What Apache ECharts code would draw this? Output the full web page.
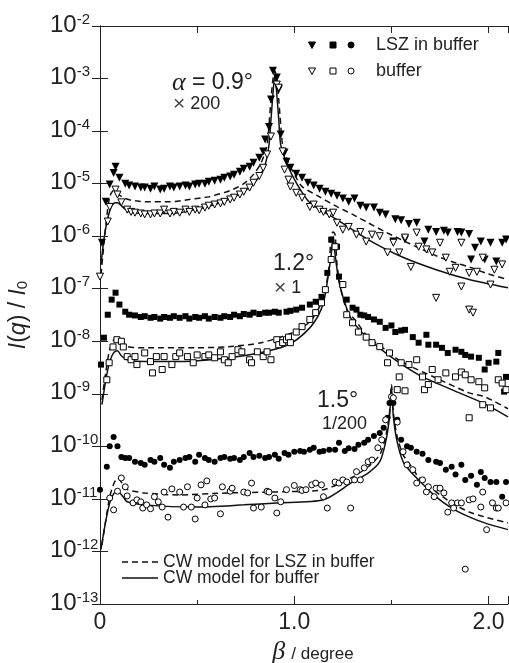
<!DOCTYPE html>
<html>
<head>
  <meta charset="utf-8">
  <title>CW model - I(q)/I0 vs beta</title>
  <script src="https://cdn.jsdelivr.net/npm/echarts@6/dist/echarts.min.js"></script>
  <style>
    html, body { margin: 0; padding: 0; background: #fff; }
    #chart { width: 509px; height: 663px; }
  </style>
</head>
<body>
<div id="chart"></div>
<script>
  // alpha = 0.9 deg (x 200): LSZ in buffer (filled triangles) and buffer (open triangles)
  const triLsz = [[0.01,7.5e-7],[0.03,4.5e-6],[0.05,9.6e-6],[0.07,1.6e-5],[0.08,2.1e-5],[0.10,1.3e-5],[0.13,1.0e-5],[0.15,9.2e-6],[0.18,8.8e-6],[0.21,8.4e-6],[0.23,8.4e-6],[0.26,8.0e-6],[0.28,8.8e-6],[0.31,7.7e-6],[0.33,8.0e-6],[0.36,8.8e-6],[0.38,8.4e-6],[0.41,8.8e-6],[0.44,9.2e-6],[0.46,8.8e-6],[0.49,9.6e-6],[0.51,1.0e-5],[0.54,1.0e-5],[0.56,1.09e-5],[0.59,1.14e-5],[0.62,1.19e-5],[0.64,1.3e-5],[0.67,1.36e-5],[0.69,1.48e-5],[0.72,1.69e-5],[0.74,1.93e-5],[0.77,2.1e-5],[0.79,2.5e-5],[0.82,3.1e-5],[0.84,4.1e-5],[0.85,6.9e-5],[0.87,1.2e-4],[0.88,4.0e-4],[0.89,1.4e-3],[0.91,1.05e-3],[0.92,6.2e-4],[0.93,8.6e-5],[0.95,3.9e-5],[0.96,2.6e-5],[0.98,2.0e-5],[1.01,1.55e-5],[1.04,1.3e-5],[1.07,1.04e-5],[1.10,9.2e-6],[1.13,8.0e-6],[1.16,7.0e-6],[1.19,6.4e-6],[1.22,5.9e-6],[1.25,5.2e-6],[1.28,4.5e-6],[1.31,5.2e-6],[1.34,3.8e-6],[1.37,3.5e-6],[1.41,3.5e-6],[1.44,2.8e-6],[1.47,2.6e-6],[1.51,7.9e-7],[1.52,2.1e-6],[1.55,2.0e-6],[1.57,8.6e-7],[1.59,1.7e-6],[1.63,1.8e-6],[1.67,7.9e-7],[1.69,1.33e-6],[1.73,1.2e-6],[1.77,1.27e-6],[1.79,1.17e-6],[1.84,1.2e-6],[1.86,1.17e-6],[1.90,1.1e-6],[1.91,3.6e-7],[1.93,6.0e-7],[1.96,7.9e-7],[1.98,3.6e-7],[2.01,7.5e-7],[2.04,3.3e-7],[2.07,7.5e-7],[2.09,8.6e-7]];
  const triBuf = [[0.00,1.7e-7],[0.04,1.9e-6],[0.05,3.6e-6],[0.08,7.7e-6],[0.09,6.2e-6],[0.11,4.4e-6],[0.14,3.2e-6],[0.16,2.9e-6],[0.18,2.8e-6],[0.21,2.7e-6],[0.23,2.6e-6],[0.26,2.6e-6],[0.28,2.7e-6],[0.31,2.7e-6],[0.33,3.2e-6],[0.36,2.7e-6],[0.38,2.9e-6],[0.41,2.8e-6],[0.44,3.2e-6],[0.46,2.9e-6],[0.49,3.2e-6],[0.51,3.1e-6],[0.54,3.5e-6],[0.56,3.8e-6],[0.59,4.0e-6],[0.62,4.2e-6],[0.64,4.5e-6],[0.67,5.0e-6],[0.69,5.4e-6],[0.72,6.2e-6],[0.74,7.0e-6],[0.77,8.4e-6],[0.79,1.04e-5],[0.82,1.4e-5],[0.84,2.0e-5],[0.86,3.6e-5],[0.88,7.9e-5],[0.91,7.7e-4],[0.92,6.7e-4],[0.94,4.1e-5],[0.95,1.85e-5],[0.97,1.19e-5],[0.98,8.8e-6],[1.01,6.7e-6],[1.04,5.4e-6],[1.08,3.6e-6],[1.10,4.0e-6],[1.13,3.2e-6],[1.15,2.9e-6],[1.18,2.6e-6],[1.20,2.8e-6],[1.22,1.8e-6],[1.25,1.33e-6],[1.28,1.5e-6],[1.32,1.07e-6],[1.34,1.2e-6],[1.37,7.9e-7],[1.40,1.07e-6],[1.44,1.0e-6],[1.48,4.9e-7],[1.51,7.5e-7],[1.54,4.9e-7],[1.57,9.4e-7],[1.60,2.6e-7],[1.63,1.17e-6],[1.64,6.3e-7],[1.68,5.6e-7],[1.71,4.9e-7],[1.73,6.7e-8],[1.75,7.5e-7],[1.78,3.9e-7],[1.80,2.1e-7],[1.83,2.5e-7],[1.86,7.5e-7],[1.86,1.1e-7],[1.90,2.0e-7],[1.90,4.0e-8],[1.92,3.5e-8],[1.94,2.1e-7],[1.97,3.9e-7],[2.01,1.2e-7],[2.03,2.3e-7],[2.07,2.9e-7]];
  const dash09 = [[0.005,1.85e-7],[0.02,6.9e-7],[0.036,2.6e-6],[0.05,5.6e-6],[0.07,7.4e-6],[0.09,6.4e-6],[0.13,5.2e-6],[0.18,4.7e-6],[0.26,4.5e-6],[0.36,4.5e-6],[0.46,5.0e-6],[0.56,5.6e-6],[0.67,7.4e-6],[0.74,1.0e-5],[0.79,1.5e-5],[0.83,2.5e-5],[0.86,5.5e-5],[0.87,1.33e-4],[0.88,4.0e-4],[0.89,9.6e-4],[0.90,1.4e-3],[0.91,9.6e-4],[0.92,4.0e-4],[0.93,1.33e-4],[0.94,5.5e-5],[0.97,2.5e-5],[1.01,1.3e-5],[1.04,8.8e-6],[1.13,5.6e-6],[1.22,3.65e-6],[1.30,2.6e-6],[1.38,1.8e-6],[1.47,1.2e-6],[1.55,8.6e-7],[1.64,6.0e-7],[1.73,4.25e-7],[1.81,3.3e-7],[1.90,2.6e-7],[2.00,1.9e-7],[2.10,1.5e-7]];
  const solid09 = [[0.005,2.9e-7],[0.02,8.6e-7],[0.036,1.9e-6],[0.056,3.5e-6],[0.077,4.35e-6],[0.09,4.35e-6],[0.12,3.5e-6],[0.15,2.9e-6],[0.23,2.7e-6],[0.32,2.7e-6],[0.41,2.8e-6],[0.49,3.2e-6],[0.57,3.8e-6],[0.66,5.0e-6],[0.73,6.7e-6],[0.78,9.2e-6],[0.82,1.36e-5],[0.85,2.3e-5],[0.87,5.5e-5],[0.88,1.66e-4],[0.89,5.0e-4],[0.90,1.2e-3],[0.91,5.0e-4],[0.92,1.66e-4],[0.93,5.5e-5],[0.96,2.5e-5],[1.01,1.04e-5],[1.08,4.35e-6],[1.22,2.06e-6],[1.38,8.6e-7],[1.55,4.1e-7],[1.73,2.3e-7],[1.90,1.5e-7],[2.10,1.04e-7]];

  // alpha = 1.2 deg (x 1): squares
  const sqLsz = [[0.005,3.6e-9],[0.02,1.17e-8],[0.04,3.2e-8],[0.06,6.2e-8],[0.08,8.4e-8],[0.10,5.0e-8],[0.13,3.65e-8],[0.15,3.2e-8],[0.18,3.1e-8],[0.21,2.9e-8],[0.23,3.0e-8],[0.26,2.8e-8],[0.28,2.9e-8],[0.31,2.7e-8],[0.33,2.9e-8],[0.36,2.8e-8],[0.38,3.0e-8],[0.41,2.8e-8],[0.44,3.0e-8],[0.46,2.7e-8],[0.49,2.9e-8],[0.51,2.8e-8],[0.54,3.0e-8],[0.56,2.7e-8],[0.59,2.9e-8],[0.62,2.8e-8],[0.64,3.0e-8],[0.67,2.9e-8],[0.69,3.2e-8],[0.72,3.0e-8],[0.74,3.3e-8],[0.77,3.2e-8],[0.79,3.5e-8],[0.82,3.3e-8],[0.85,3.5e-8],[0.87,3.5e-8],[0.90,3.65e-8],[0.92,3.5e-8],[0.96,3.65e-8],[0.98,3.8e-8],[1.01,4.0e-8],[1.04,4.35e-8],[1.08,5.0e-8],[1.11,5.65e-8],[1.14,7.0e-8],[1.17,2.0e-7],[1.19,8.6e-7],[1.22,6.3e-7],[1.23,1.7e-7],[1.27,6.2e-8],[1.30,4.35e-8],[1.32,4.0e-8],[1.34,3.2e-8],[1.36,3.1e-8],[1.38,2.9e-8],[1.41,2.6e-8],[1.44,2.35e-8],[1.47,1.8e-8],[1.50,2.0e-8],[1.52,1.5e-8],[1.55,1.6e-8],[1.57,1.65e-8],[1.61,1.2e-8],[1.64,9.4e-9],[1.68,1.33e-8],[1.69,8.6e-9],[1.73,8.6e-9],[1.76,7.5e-9],[1.79,6.0e-9],[1.83,6.9e-9],[1.86,6.3e-9],[1.88,5.5e-9],[1.91,5.1e-9],[1.95,4.85e-9],[1.98,2.9e-9],[2.00,3.9e-9],[2.04,4.1e-9],[2.05,6.0e-9],[2.08,1.1e-9],[2.09,2.1e-9]];
  const sqBuf = [[0.035,1.85e-9],[0.047,3.9e-9],[0.067,7.8e-9],[0.087,1.07e-8],[0.11,1.0e-8],[0.12,7.8e-9],[0.14,5.1e-9],[0.16,4.45e-9],[0.18,5.1e-9],[0.19,3.6e-9],[0.23,6.0e-9],[0.26,4.1e-9],[0.27,2.5e-9],[0.29,5.1e-9],[0.32,2.9e-9],[0.33,5.1e-9],[0.37,3.6e-9],[0.39,5.1e-9],[0.41,6.0e-9],[0.45,5.1e-9],[0.48,3.9e-9],[0.50,5.5e-9],[0.54,5.1e-9],[0.56,5.5e-9],[0.59,4.85e-9],[0.62,6.3e-9],[0.64,4.45e-9],[0.66,3.9e-9],[0.68,5.1e-9],[0.71,6.9e-9],[0.73,6.3e-9],[0.77,4.45e-9],[0.78,3.9e-9],[0.81,6.3e-9],[0.84,5.1e-9],[0.86,6.3e-9],[0.88,4.45e-9],[0.91,1.07e-8],[0.92,8.6e-9],[0.94,9.4e-9],[0.96,1.07e-8],[0.97,1.2e-8],[0.98,9.4e-9],[1.01,1.5e-8],[1.04,1.9e-8],[1.08,2.6e-8],[1.11,3.5e-8],[1.14,5.4e-8],[1.16,9.6e-8],[1.19,3.6e-7],[1.21,6.3e-7],[1.25,1.2e-7],[1.27,3.2e-8],[1.30,2.25e-8],[1.33,1.5e-8],[1.37,1.2e-8],[1.40,9.4e-9],[1.44,7.9e-9],[1.48,3.9e-9],[1.49,6.0e-9],[1.53,1.2e-9],[1.54,2.1e-9],[1.55,3.9e-9],[1.57,1.14e-9],[1.59,3.6e-9],[1.63,4.45e-9],[1.66,2.1e-9],[1.67,1.2e-9],[1.69,1.5e-9],[1.71,2.9e-9],[1.74,1.85e-9],[1.78,2.5e-9],[1.83,2.1e-9],[1.86,2.6e-9],[1.88,2.3e-9],[1.90,3.5e-10],[1.91,1.85e-9],[1.95,1.7e-9],[1.97,6.2e-10],[1.98,1.3e-9],[2.01,5.4e-10],[2.05,1.85e-9],[2.07,1.6e-9],[2.09,1.2e-9]];
  const dash12 = [[0.01,7.7e-10],[0.03,2.6e-9],[0.05,6.9e-9],[0.08,1.17e-8],[0.10,1.0e-8],[0.14,7.9e-9],[0.23,7.5e-9],[0.32,7.5e-9],[0.49,7.5e-9],[0.66,7.9e-9],[0.83,9.4e-9],[1.00,1.5e-8],[1.08,2.35e-8],[1.13,4.55e-8],[1.16,9.6e-8],[1.18,2.9e-7],[1.19,1.07e-6],[1.20,1.2e-6],[1.21,1.07e-6],[1.22,2.9e-7],[1.24,9.6e-8],[1.27,4.0e-8],[1.32,2.35e-8],[1.38,1.2e-8],[1.47,6.9e-9],[1.55,4.1e-9],[1.73,2.0e-9],[1.90,1.04e-9],[1.98,8.8e-10],[2.10,5.2e-10]];
  const solid12 = [[0.01,6.2e-10],[0.03,1.85e-9],[0.05,4.1e-9],[0.07,6.0e-9],[0.09,6.6e-9],[0.11,5.3e-9],[0.14,4.45e-9],[0.23,4.1e-9],[0.40,4.1e-9],[0.57,4.45e-9],[0.74,5.3e-9],[0.91,7.2e-9],[1.00,1.0e-8],[1.08,1.8e-8],[1.12,2.9e-8],[1.15,5.4e-8],[1.17,1.36e-7],[1.19,4.45e-7],[1.20,1.0e-6],[1.21,4.45e-7],[1.23,1.36e-7],[1.26,5.4e-8],[1.29,2.8e-8],[1.35,1.45e-8],[1.47,6.0e-9],[1.64,2.3e-9],[1.81,1.2e-9],[1.98,6.45e-10],[2.10,3.65e-10]];

  // alpha = 1.5 deg (1/200): circles
  const ciLsz = [[0.00,1.5e-11],[0.035,4.1e-11],[0.05,1.0e-10],[0.07,1.5e-10],[0.09,1.0e-10],[0.11,6.3e-11],[0.13,6.0e-11],[0.15,6.0e-11],[0.18,5.1e-11],[0.21,4.85e-11],[0.23,4.45e-11],[0.26,5.5e-11],[0.28,5.1e-11],[0.31,6.0e-11],[0.33,4.45e-11],[0.36,3.9e-11],[0.38,5.1e-11],[0.41,5.5e-11],[0.44,6.0e-11],[0.46,6.3e-11],[0.49,5.1e-11],[0.51,6.9e-11],[0.54,6.0e-11],[0.56,5.5e-11],[0.59,5.1e-11],[0.62,6.0e-11],[0.64,6.3e-11],[0.67,5.8e-11],[0.69,6.0e-11],[0.72,5.5e-11],[0.74,6.3e-11],[0.77,7.5e-11],[0.79,6.3e-11],[0.82,6.6e-11],[0.85,6.0e-11],[0.87,6.3e-11],[0.90,6.9e-11],[0.92,5.8e-11],[0.95,7.5e-11],[0.97,6.9e-11],[1.00,7.9e-11],[1.03,8.2e-11],[1.05,7.9e-11],[1.08,8.6e-11],[1.10,9.4e-11],[1.13,7.9e-11],[1.15,8.2e-11],[1.18,8.6e-11],[1.21,8.6e-11],[1.23,1.17e-10],[1.26,8.2e-11],[1.28,9.2e-11],[1.31,8.9e-11],[1.33,1.07e-10],[1.36,1.17e-10],[1.38,1.33e-10],[1.41,1.58e-10],[1.44,1.8e-10],[1.46,2.25e-10],[1.48,3.5e-10],[1.49,6.7e-10],[1.51,6.7e-10],[1.53,3.2e-10],[1.55,1.33e-10],[1.58,1.0e-10],[1.60,9.4e-11],[1.63,7.9e-11],[1.66,7.2e-11],[1.69,5.5e-11],[1.73,5.1e-11],[1.75,4.85e-11],[1.78,3.6e-11],[1.81,4.1e-11],[1.83,2.9e-11],[1.86,4.45e-11],[1.88,2.3e-11],[1.91,2.75e-11],[1.94,1.85e-11],[1.96,3.25e-11],[1.98,2.5e-11],[2.01,2.1e-11],[2.04,2.1e-11],[2.07,1.1e-11],[2.09,2.1e-11]];
  const ciBuf = [[0.05,1.04e-11],[0.07,6.2e-12],[0.09,1.4e-11],[0.11,2.5e-11],[0.13,1.7e-11],[0.14,1.14e-11],[0.17,8.4e-12],[0.19,9.6e-12],[0.21,8.8e-12],[0.22,6.7e-12],[0.24,7.7e-12],[0.26,6.5e-12],[0.28,1.1e-11],[0.30,8.8e-12],[0.32,7.0e-12],[0.33,1.35e-11],[0.35,4.5e-12],[0.37,1.55e-11],[0.41,1.35e-11],[0.43,7.0e-12],[0.45,1.7e-11],[0.47,7.0e-12],[0.49,4.15e-12],[0.50,1.04e-11],[0.52,1.85e-11],[0.54,7.7e-12],[0.55,2.2e-11],[0.57,1.0e-11],[0.59,1.04e-11],[0.62,5.2e-12],[0.63,1.7e-11],[0.67,1.4e-11],[0.68,1.6e-11],[0.74,1.35e-11],[0.76,1.3e-11],[0.78,2.0e-11],[0.79,6.7e-12],[0.83,7.0e-12],[0.86,1.4e-11],[0.87,1.35e-11],[0.90,1.04e-11],[0.91,5.4e-12],[0.93,8.8e-12],[0.96,1.5e-11],[1.00,1.8e-11],[1.03,1.5e-11],[1.04,1.45e-11],[1.06,1.5e-11],[1.09,1.85e-11],[1.11,2.0e-11],[1.14,1.85e-11],[1.15,1.1e-11],[1.17,6.7e-12],[1.21,2.1e-11],[1.23,2.0e-11],[1.25,2.3e-11],[1.27,2.1e-11],[1.29,6.7e-12],[1.31,2.3e-11],[1.32,3.3e-11],[1.34,2.3e-11],[1.36,3.9e-11],[1.38,5.1e-11],[1.40,5.5e-11],[1.43,9.4e-11],[1.45,1.33e-10],[1.47,3.2e-10],[1.50,8.8e-10],[1.51,8.4e-10],[1.53,2.9e-10],[1.56,7.9e-11],[1.58,4.45e-11],[1.61,3.6e-11],[1.63,2.0e-11],[1.66,2.3e-11],[1.68,1.36e-11],[1.69,1.7e-11],[1.72,1.1e-11],[1.73,1.6e-11],[1.75,1.6e-11],[1.77,1.3e-11],[1.79,5.6e-12],[1.81,8.4e-12],[1.82,6.7e-12],[1.84,8.4e-12],[1.86,8.4e-12],[1.88,4.6e-13],[1.90,9.6e-12],[1.92,1.0e-11],[1.96,7.0e-12],[1.97,1.35e-11],[1.99,2.6e-12],[2.02,8.4e-12],[2.04,6.7e-12],[2.05,6.7e-12],[2.09,8.4e-12]];
  const dash15 = [[0.01,1.33e-12],[0.03,4.0e-12],[0.05,1.09e-11],[0.07,1.9e-11],[0.09,2.5e-11],[0.12,1.85e-11],[0.14,1.5e-11],[0.23,1.3e-11],[0.40,1.19e-11],[0.66,1.3e-11],[0.91,1.36e-11],[1.15,1.5e-11],[1.30,2.6e-11],[1.38,4.1e-11],[1.44,6.9e-11],[1.47,1.5e-10],[1.49,4.35e-10],[1.50,1.5e-9],[1.51,4.35e-10],[1.53,1.5e-10],[1.56,6.9e-11],[1.59,4.85e-11],[1.64,2.6e-11],[1.73,1.36e-11],[1.81,8.4e-12],[1.90,5.65e-12],[1.98,4.55e-12],[2.10,3.5e-12]];
  const solid15 = [[0.005,1.1e-12],[0.026,3.2e-12],[0.05,8.4e-12],[0.07,1.25e-11],[0.09,1.4e-11],[0.12,1.09e-11],[0.14,8.8e-12],[0.23,7.7e-12],[0.49,7.0e-12],[0.74,7.7e-12],[0.91,8.4e-12],[1.15,9.6e-12],[1.30,2.1e-11],[1.38,3.1e-11],[1.44,5.1e-11],[1.47,1.2e-10],[1.49,3.65e-10],[1.50,1.36e-9],[1.51,3.65e-10],[1.53,1.2e-10],[1.56,5.1e-11],[1.59,3.6e-11],[1.64,2.3e-11],[1.73,1.09e-11],[1.81,6.7e-12],[1.90,4.55e-12],[1.98,3.5e-12],[2.10,2.6e-12]];

  const xLabelValues = [0, 1, 2];
  const xLabelTexts = ['0', '1.0', '2.0'];

  const FONT = '"Liberation Sans", Arial, Helvetica, sans-serif';
  const SERIF = '"Liberation Serif", "Times New Roman", serif';
  const INK = '#222';

  function scatter(name, data, symbol, size, filled, rotate) {
    return {
      name: name,
      type: 'scatter',
      data: data,
      symbol: symbol,
      symbolSize: size,
      symbolRotate: rotate || 0,
      z: 3,
      itemStyle: filled
        ? { color: '#000', opacity: 1 }
        : { color: '#fff', borderColor: '#000', borderWidth: 1, opacity: 1 }
    };
  }

  function curve(name, data, dashed) {
    return {
      name: name,
      type: 'line',
      data: data,
      showSymbol: false,
      symbol: 'none',
      smooth: 0.25,
      z: 2,
      lineStyle: { color: '#111', width: 1.5, type: dashed ? [6, 4] : 'solid' }
    };
  }

  const chart = echarts.init(document.getElementById('chart'), null, { renderer: 'canvas' });

  const legendY1 = 45, legendY2 = 71;
  function downTri(cx, cy, filled) {
    return { type: 'polygon', shape: { points: [[cx - 3.5, cy - 3], [cx + 3.5, cy - 3], [cx, cy + 3.5]] },
      style: { fill: filled ? '#000' : '#fff', stroke: '#000', lineWidth: 1 } };
  }
  function box(cx, cy, filled) {
    return { type: 'rect', shape: { x: cx - 3, y: cy - 3, width: 6, height: 6 },
      style: { fill: filled ? '#000' : '#fff', stroke: '#000', lineWidth: 1 } };
  }
  function dot(cx, cy, filled) {
    return { type: 'circle', shape: { cx: cx, cy: cy, r: 3 },
      style: { fill: filled ? '#000' : '#fff', stroke: '#000', lineWidth: 1 } };
  }
  function label(text, x, y, size, extra) {
    return Object.assign({ type: 'text', x: x, y: y, z: 10,
      style: Object.assign({ text: text, fontSize: size, fontFamily: FONT, fill: INK,
        textAlign: 'left', textVerticalAlign: 'middle', align: 'left', verticalAlign: 'middle' }, extra || {}) });
  }
  const crossRich = { rich: { x: { fontSize: 21, fontFamily: FONT, fill: '#444' } } };

  chart.setOption({
    animation: false,
    backgroundColor: '#fff',
    grid: { left: 100, right: 1, top: 26, bottom: 59, containLabel: false, outerBoundsMode: 'none' },
    xAxis: [{
      type: 'value', min: 0, max: 2.1, interval: 1,
      axisLine: { lineStyle: { color: '#222', width: 1 } },
      axisTick: { inside: true, length: 8, lineStyle: { color: '#222' } },
      minorTick: { show: true, splitNumber: 2, length: 4, lineStyle: { color: '#222' } },
      splitLine: { show: false },
      axisLabel: {
        fontSize: 23, fontFamily: FONT, color: INK, margin: 7,
        formatter: function (v) {
          const i = xLabelValues.findIndex(function (t) { return Math.abs(t - v) < 1e-6; });
          return i >= 0 ? xLabelTexts[i] : '';
        }
      },
      name: '{g|\u03b2}{t|/ degree}',
      nameLocation: 'middle', nameGap: 33,
      nameTextStyle: {
        padding: [0, 0, 0, 18],
        rich: {
          g: { fontSize: 26, fontFamily: SERIF, fontStyle: 'italic', color: INK },
          t: { fontSize: 17, fontFamily: FONT, color: INK, padding: [5, 0, 0, 6] }
        }
      }
    }, {
      type: 'value', position: 'top', min: 0, max: 2.1, interval: 0.5,
      axisLine: { show: true, lineStyle: { color: '#222', width: 1 } },
      axisTick: { inside: true, length: 7, lineStyle: { color: '#222' } },
      axisLabel: { show: false }, splitLine: { show: false }
    }],
    yAxis: [{
      type: 'log', logBase: 10, min: 1e-13, max: 1e-2, interval: 1,
      axisLine: { show: true, lineStyle: { color: '#222', width: 1 } },
      axisTick: { inside: true, length: 8, lineStyle: { color: '#222' } },
      splitLine: { show: false },
      axisLabel: {
        margin: 50, align: 'left',
        formatter: function (v) {
          const e = Math.round(Math.log10(v));
          return '{b|10}{s|' + e + '}';
        },
        rich: {
          b: { fontSize: 24, fontFamily: FONT, color: INK, lineHeight: 28, verticalAlign: 'bottom', padding: [0, 0, 3, 0] },
          s: { fontSize: 15, fontFamily: FONT, color: INK, verticalAlign: 'top', lineHeight: 16 }
        }
      },
      name: '{i|I}({i|q}) / {i|I}{d|0}',
      nameLocation: 'middle', nameGap: 70, nameRotate: 90,
      nameTextStyle: {
        rich: {
          i: { fontSize: 23, fontFamily: FONT, fontStyle: 'italic', color: INK },
          d: { fontSize: 15, fontFamily: FONT, color: INK, verticalAlign: 'bottom', padding: [8, 0, 0, 0] }
        },
        fontSize: 23, fontFamily: FONT, color: INK
      }
    }, {
      type: 'log', logBase: 10, min: 1e-13, max: 1e-2, interval: 1, position: 'right',
      axisLine: { show: true, lineStyle: { color: '#222', width: 1 } },
      axisTick: { inside: true, length: 8, lineStyle: { color: '#222' } },
      axisLabel: { show: false }, splitLine: { show: false }
    }],
    series: [
      curve('CW model for LSZ in buffer', dash09, true),
      curve('CW model for buffer', solid09, false),
      curve('CW model for LSZ in buffer', dash12, true),
      curve('CW model for buffer', solid12, false),
      curve('CW model for LSZ in buffer', dash15, true),
      curve('CW model for buffer', solid15, false),
      scatter('LSZ in buffer 0.9', triLsz, 'triangle', 8, true, 180),
      scatter('buffer 0.9', triBuf, 'triangle', 7, false, 180),
      scatter('LSZ in buffer 1.2', sqLsz, 'rect', 6, true),
      scatter('buffer 1.2', sqBuf, 'rect', 6, false),
      scatter('LSZ in buffer 1.5', ciLsz, 'circle', 6, true),
      scatter('buffer 1.5', ciBuf, 'circle', 6, false)
    ],
    graphic: [
      // angle annotations
      label('{a|\u03b1} = 0.9\u00b0', 172, 83, 23, { rich: { a: { fontSize: 26, fontFamily: SERIF, fontStyle: 'italic', fill: INK } } }),
      label('{x|\u00d7} 200', 173, 104, 18, crossRich),
      label('1.2\u00b0', 273, 264, 23),
      label('{x|\u00d7} 1', 274, 288, 18, crossRich),
      label('1.5\u00b0', 317, 401, 23),
      label('1/200', 322, 424, 18),
      // marker legend
      downTri(312, legendY1, true), box(333, legendY1, true), dot(351, legendY1, true),
      label('LSZ in buffer', 376, legendY1, 18),
      downTri(312, legendY2, false), box(333, legendY2, false), dot(351, legendY2, false),
      label('buffer', 376, legendY2, 18),
      // model legend
      { type: 'line', shape: { x1: 122, y1: 562, x2: 158, y2: 562 }, style: { stroke: '#111', lineWidth: 1.5, lineDash: [6, 4] } },
      label('CW model for LSZ in buffer', 163, 562, 17.5),
      { type: 'line', shape: { x1: 122, y1: 578, x2: 158, y2: 578 }, style: { stroke: '#111', lineWidth: 1.5 } },
      label('CW model for buffer', 163, 578, 17.5)
    ]
  });
</script>
</body>
</html>
